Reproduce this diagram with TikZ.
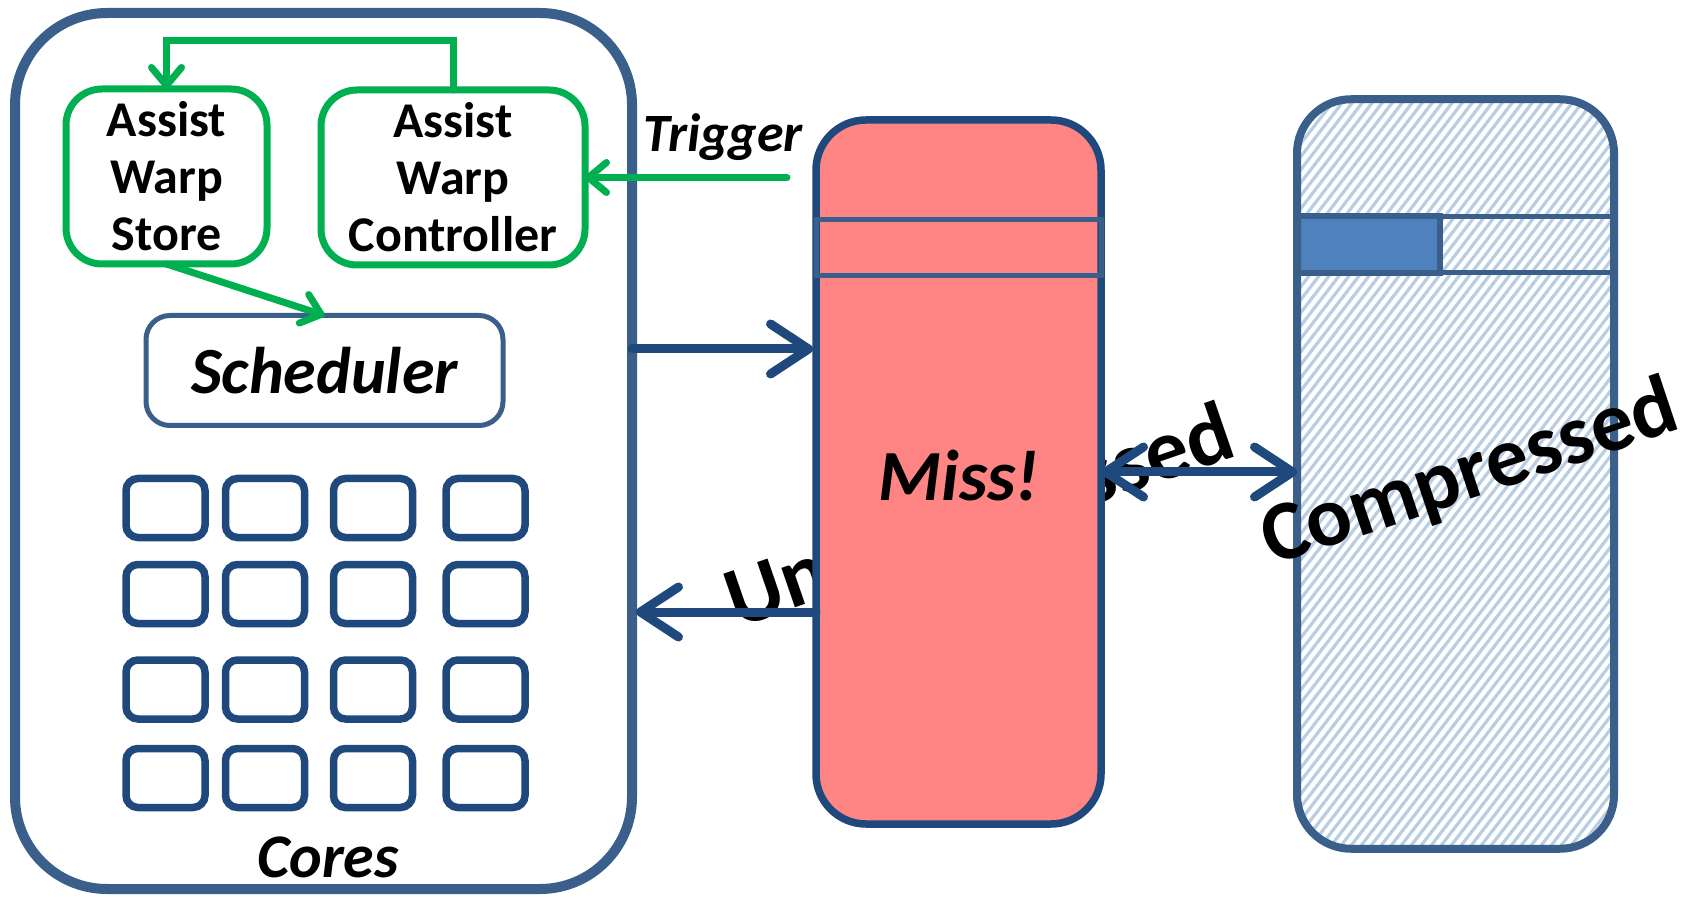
\documentclass[tikz,border=0pt]{standalone}
\usepackage{fontspec}
\setmainfont{Carlito}
\usetikzlibrary{arrows.meta}
\definecolor{frameblue}{HTML}{3A5F8B}
\definecolor{darkblue}{HTML}{1F497D}
\definecolor{assistgreen}{HTML}{00B050}
\definecolor{missred}{HTML}{FF8585}
\definecolor{hatchblue}{HTML}{B9CDE5}
\definecolor{lineblue}{HTML}{4F81BD}
\begin{document}
\begin{tikzpicture}[x=0.5pt,y=-0.5pt,
  every node/.style={inner sep=0pt, outer sep=0pt, align=center},
  smbox/.style={draw=frameblue, line width=5pt, rounded corners=46pt},
  greenbox/.style={draw=assistgreen, line width=3.5pt, rounded corners=18pt,
    minimum height=87.5pt, font=\bfseries\fontsize{25}{28.5}\selectfont},
  schedbox/.style={draw=frameblue, line width=2.5pt, rounded corners=12pt,
    minimum width=178.5pt, minimum height=55pt,
    font=\bfseries\itshape\fontsize{33}{36}\selectfont},
  corebox/.style={draw=darkblue, line width=3.75pt, rounded corners=6pt,
    minimum width=39.5pt, minimum height=29.5pt},
  cachebox/.style={draw=darkblue, fill=missred, line width=3.75pt, rounded corners=25pt,
    minimum width=142.5pt, minimum height=352pt},
  membox/.style={fill=white, rounded corners=27pt,
    minimum width=158.5pt, minimum height=374.75pt},
  greenline/.style={draw=assistgreen, line width=3.5pt, line cap=round,
    -{Straight Barb[length=9pt,width=15pt,round]}},
  bluearrow/.style={draw=darkblue, line width=4.5pt, line cap=round,
    -{Straight Barb[length=19pt,width=25pt,round]}},
  bigword/.style={font=\bfseries\fontsize{43}{46}\selectfont, anchor=base west}
]
\useasboundingbox (0,0) rectangle (1696,897);
\fill[white] (0,0) rectangle (1696,897);

% streaming multiprocessor
\node[smbox, minimum width=308.5pt, minimum height=438pt] (sm) at (323.5,451) {};

\node[greenbox, minimum width=100.5pt] (store) at (166.5,176.5) {Assist\\Warp\\Store};
\node[greenbox, minimum width=132pt] (ctrl) at (453,177.5) {Assist\\Warp\\Controller};
\node[schedbox] (sched) at (324.5,370.5) {Scheduler};

% core array
\foreach \cx [count=\i] in {165.5,265,373,485.5}
  \foreach \cy [count=\j] in {508,594,689.5,778}
    \node[corebox] (core-\i-\j) at (\cx,\cy) {};
\node[anchor=base, font=\bfseries\itshape\fontsize{31}{34}\selectfont] (cores) at (328,877) {Cores};

% assist warp signalling
\draw[greenline] (ctrl.north) -- ++(0,-49.5) -| (store.north);
\draw[greenline] (store.south) -- (sched.north);
\coordinate (trig) at (787,177.5);
\draw[greenline] (trig) -- (ctrl.east);
\node[font=\bfseries\itshape\fontsize{27}{30}\selectfont] (trigtxt) at (723,137) {Trigger};

% label running behind the cache
\node[bigword, rotate=19] (uncomp) at (737,628) {Uncompressed};

% cache
\node[cachebox] (cache) at (958.5,472) {};
\draw[frameblue, line width=2.5pt] (816,219.5) rectangle (1101,276);
\node[font=\bfseries\itshape\fontsize{36}{40}\selectfont] (miss) at (959,476) {Miss!};

% requests between SM and cache
\coordinate (req) at (632,349);
\coordinate (fill) at (632,612);
\draw[bluearrow, shorten >=1.5pt] (sm.east |- req) -- (cache.west |- req);
\draw[bluearrow, shorten >=2pt] (cache.west |- fill) -- (sm.east |- fill);

% compressed memory
\node[membox] (mem) at (1455.5,474) {};
\begin{scope}
  \clip[rounded corners=27pt] (mem.south west) rectangle (mem.north east);
  \foreach \x in {700,710,...,1620}
    \draw[hatchblue, line width=1.6pt] (\x,860) -- ++(592,-770);
\end{scope}
\draw[frameblue, line width=2.5pt] (1297,216.5) -- (1614,216.5) (1297,273) -- (1614,273);
\draw[frameblue, line width=3pt, fill=lineblue] (1297,216.5) rectangle (1440,273);
\draw[frameblue, line width=4pt, rounded corners=27pt] (mem.south west) rectangle (mem.north east);

\draw[bluearrow, {Straight Barb[length=19pt,width=25pt,round]}-{Straight Barb[length=19pt,width=25pt,round]}]
  (cache.east) -- (cache.east -| mem.west);

\node[bigword, rotate=18.5, font=\bfseries\fontsize{42.5}{46}\selectfont] (comp) at (1272,566) {Compressed};
\end{tikzpicture}
\end{document}
